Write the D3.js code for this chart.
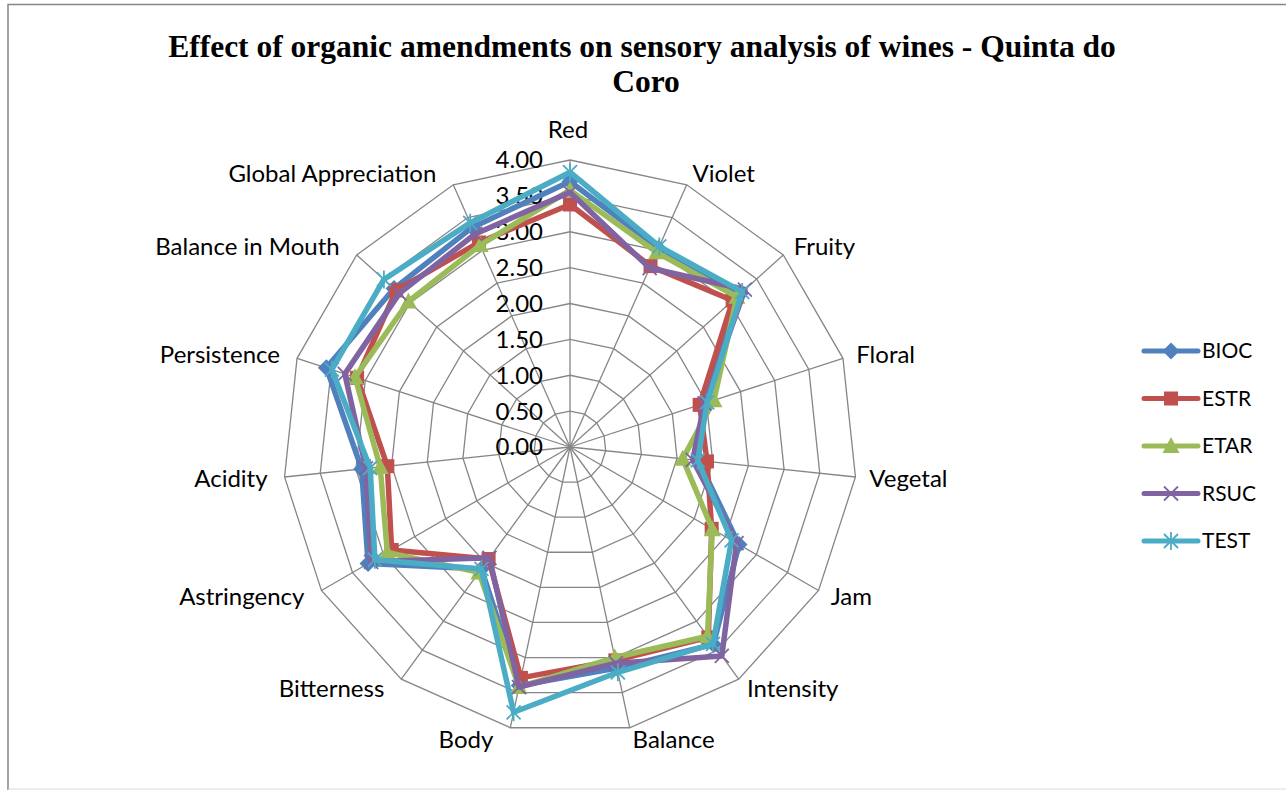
<!DOCTYPE html>
<html>
<head>
  <title>Sensory analysis radar</title>
  <style>
    body { margin: 0; background: #fff; }
    svg { display: block; }
    .lbl { font-family: Lato, "Open Sans", sans-serif; font-size: 24px; fill: #000; }
    .leg { font-family: Lato, "Open Sans", sans-serif; font-size: 21px; fill: #000; }
  </style>
</head>
<body>
  <svg id="chart" width="1286" height="790"></svg>

  <script src="https://d3js.org/d3.v7.min.js"></script>
  <script>
    // Attributes (spokes, clockwise from top)
    const attributes = ["Red", "Violet", "Fruity", "Floral", "Vegetal", "Jam", "Intensity",
      "Balance", "Body", "Bitterness", "Astringency", "Acidity", "Persistence",
      "Balance in Mouth", "Global Appreciation"];

    // Scale ticks
    const ticks = [0, 0.5, 1, 1.5, 2, 2.5, 3, 3.5, 4];

    // Treatments
    const series = ["BIOC", "ESTR", "ETAR", "RSUC", "TEST"];

    // Values, same order as attributes
    const BIOC = [3.70, 3.03, 3.20, 1.97, 1.80, 2.72, 3.40, 3.15, 3.40, 2.10, 3.25, 2.92, 3.57, 3.30, 3.35];
    const ESTR = [3.38, 2.76, 3.05, 1.90, 1.92, 2.28, 3.28, 3.04, 3.29, 1.93, 2.87, 2.56, 3.12, 3.26, 3.12];
    const ETAR = [3.58, 2.97, 3.13, 2.11, 1.58, 2.29, 3.26, 3.00, 3.42, 2.16, 2.94, 2.66, 3.15, 3.03, 3.08];
    const RSUC = [3.55, 2.73, 3.28, 1.97, 1.72, 2.68, 3.60, 3.08, 3.42, 1.91, 3.20, 2.86, 3.30, 3.20, 3.25];
    const TEST = [3.83, 3.06, 3.23, 2.01, 1.79, 2.60, 3.39, 3.21, 3.78, 2.10, 3.14, 2.80, 3.49, 3.49, 3.42];

    const values = { BIOC, ESTR, ETAR, RSUC, TEST };
    const colors = { BIOC: "#4F81BD", ESTR: "#C0504D", ETAR: "#9BBB59", RSUC: "#8064A2", TEST: "#4BACC6" };

    const svg = d3.select("#chart");
    const cx = 570, cy = 447, R = 287;

    // frame
    svg.append("path")
      .attr("d", "M8,800 L8,4.5 L1300,4.5")
      .attr("fill", "none").attr("stroke", "#868686").attr("stroke-width", 1.5);
    svg.append("line")
      .attr("x1", 8).attr("x2", 1286).attr("y1", 789).attr("y2", 789)
      .attr("stroke", "#d9d9d9").attr("stroke-width", 1);

    // title
    const title = svg.append("text")
      .attr("text-anchor", "middle")
      .style("font-family", "'Liberation Serif', 'Times New Roman', serif")
      .style("font-weight", "bold")
      .style("font-size", "31.5px");
    title.append("tspan").attr("x", 642).attr("y", 57)
      .text("Effect of organic amendments on sensory analysis of wines - Quinta do");
    title.append("tspan").attr("x", 646).attr("y", 92).text("Coro");

    // scales
    const angle = d3.scalePoint().domain(attributes).range([0, 2 * Math.PI * (attributes.length - 1) / attributes.length]);
    const r = d3.scaleLinear().domain([0, 4]).range([0, R]);

    const g = svg.append("g").attr("transform", `translate(${cx},${cy})`);
    const pt = (a, v) => [r(v) * Math.sin(angle(a)), -r(v) * Math.cos(angle(a))];

    // rings
    const ringLine = d3.line();
    g.selectAll(".ring").data(ticks.slice(1)).enter().append("path")
      .attr("d", t => ringLine(attributes.map(a => pt(a, t))) + "Z")
      .attr("fill", "none").attr("stroke", "#868686").attr("stroke-width", 1.3);

    // spokes
    g.selectAll(".spoke").data(attributes).enter().append("line")
      .attr("x1", 0).attr("y1", 0)
      .attr("x2", a => pt(a, 4)[0]).attr("y2", a => pt(a, 4)[1])
      .attr("stroke", "#868686").attr("stroke-width", 1.3);

    // tick labels
    g.selectAll(".tick").data(ticks).enter().append("text")
      .attr("class", "lbl")
      .attr("x", -27).attr("y", t => -r(t))
      .attr("dy", "0.35em")
      .attr("text-anchor", "end")
      .text(t => t.toFixed(2));

    // category labels
    g.selectAll(".cat").data(attributes).enter().append("text")
      .attr("class", "lbl")
      .each(function (a) {
        const th = angle(a), s = Math.sin(th), c = Math.cos(th);
        const [vx, vy] = pt(a, 4);
        const el = d3.select(this);
        if (Math.abs(s) < 0.05) {
          el.attr("x", vx - 2).attr("y", vy - 30).attr("text-anchor", "middle");
        } else if (s > 0) {
          el.attr("x", vx + s * 14).attr("y", vy - c * 12).attr("text-anchor", "start");
        } else {
          el.attr("x", vx - 17).attr("y", vy - c * 12).attr("text-anchor", "end");
        }
        el.attr("dy", "0.35em").text(a);
      });

    // marker shapes
    function marker(sel, name, col) {
      if (name === "BIOC") {
        sel.append("path").attr("d", "M0,-8.5 L8.5,0 L0,8.5 L-8.5,0Z").attr("fill", col);
      } else if (name === "ESTR") {
        sel.append("rect").attr("x", -7).attr("y", -7).attr("width", 14).attr("height", 14).attr("fill", col);
      } else if (name === "ETAR") {
        sel.append("path").attr("d", "M0,-9 L8.5,7 L-8.5,7Z").attr("fill", col);
      } else if (name === "RSUC") {
        sel.append("path").attr("d", "M-7,-7 L7,7 M-7,7 L7,-7")
          .attr("stroke", col).attr("stroke-width", 1.8).attr("fill", "none");
      } else {
        sel.append("path").attr("d", "M-7,-7 L7,7 M-7,7 L7,-7 M0,-9 L0,9")
          .attr("stroke", col).attr("stroke-width", 1.8).attr("fill", "none");
      }
    }

    // series
    const line = d3.line();
    series.forEach(name => {
      const pts = attributes.map((a, i) => pt(a, values[name][i]));
      const sg = g.append("g");
      sg.append("path")
        .attr("d", line(pts) + "Z")
        .attr("fill", "none")
        .attr("stroke", colors[name])
        .attr("stroke-width", 5.5)
        .attr("stroke-linejoin", "round");
      pts.forEach(p => {
        const m = sg.append("g").attr("transform", `translate(${p[0]},${p[1]})`);
        marker(m, name, colors[name]);
      });
    });

    // legend
    const leg = svg.append("g").attr("transform", "translate(1144,351)");
    series.forEach((name, i) => {
      const row = leg.append("g").attr("transform", `translate(0,${i * 47.5})`);
      row.append("line").attr("x1", 0).attr("x2", 54).attr("y1", 0).attr("y2", 0)
        .attr("stroke", colors[name]).attr("stroke-width", 5).attr("stroke-linecap", "round");
      const m = row.append("g").attr("transform", "translate(27,0)");
      marker(m, name, colors[name]);
      row.append("text").attr("class", "leg").attr("x", 58).attr("y", 0).attr("dy", "0.35em").text(name);
    });
  </script>
</body>
</html>
